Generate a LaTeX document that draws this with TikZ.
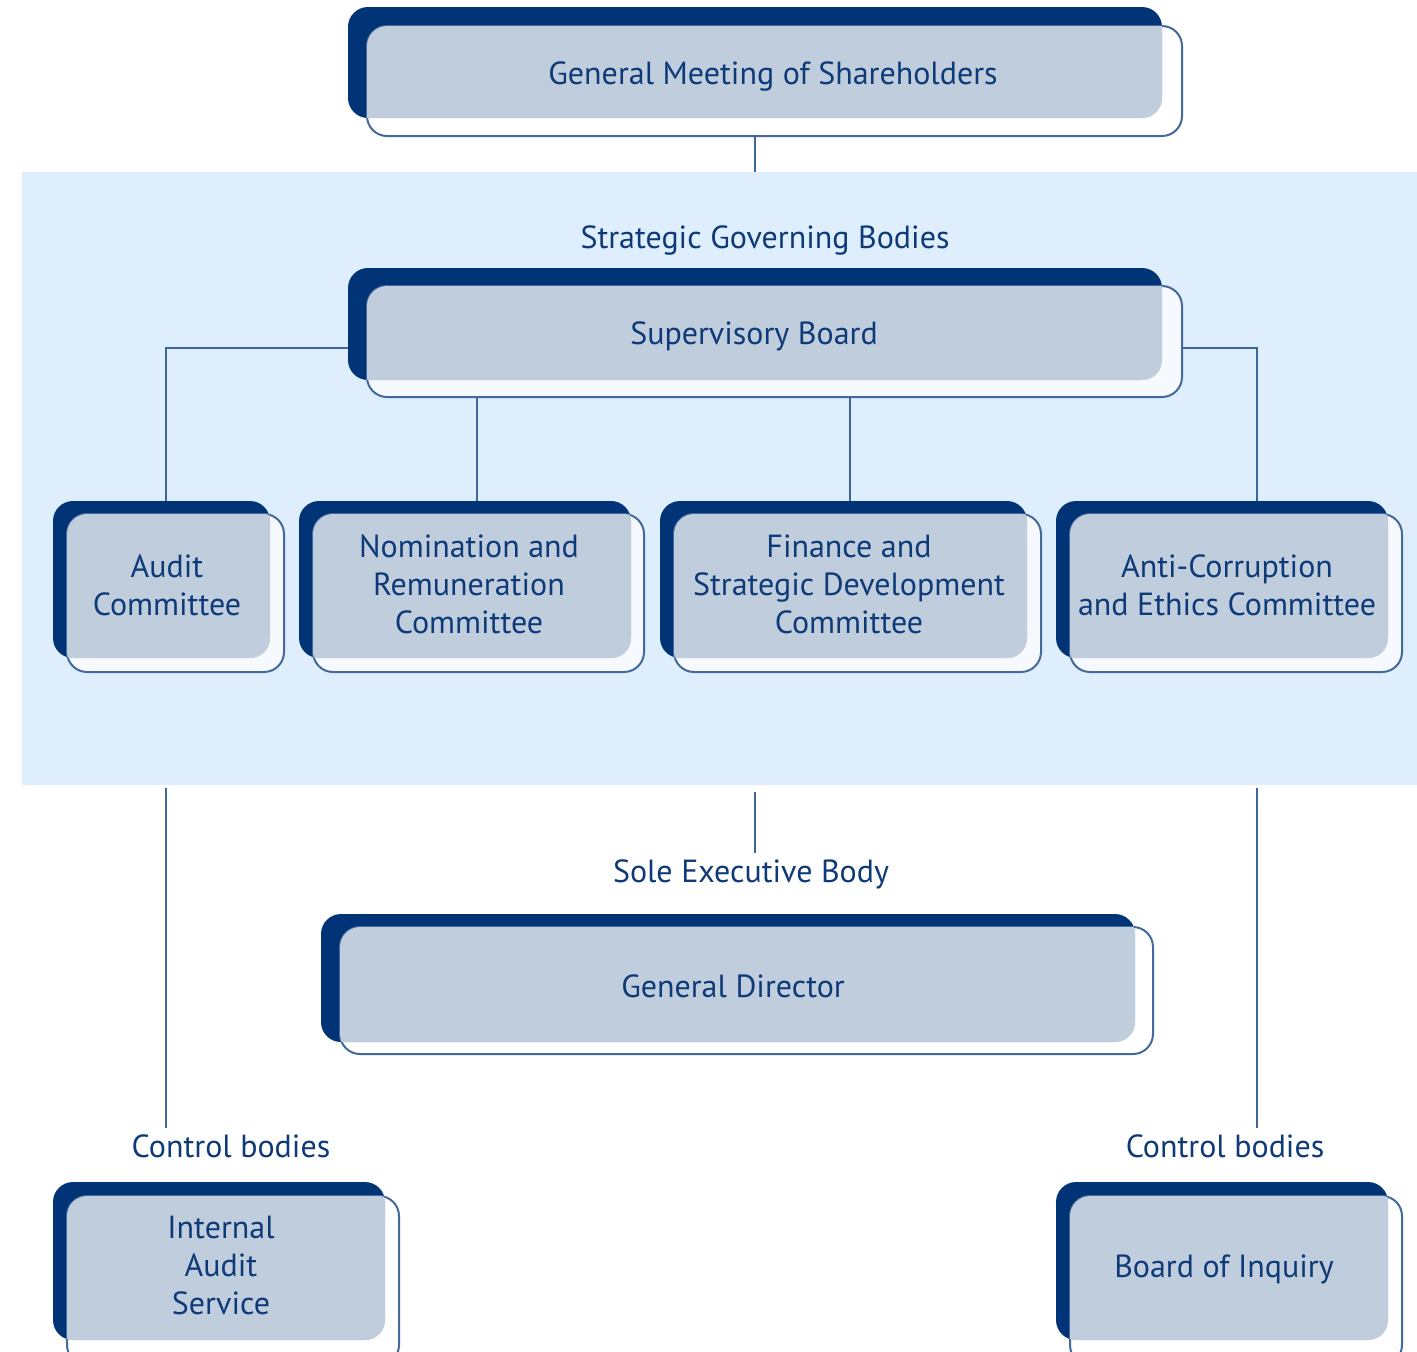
\documentclass[tikz,border=0pt]{standalone}
\usepackage{fontspec}
\setmainfont{PT Sans}
\usetikzlibrary{fit}

\definecolor{navy}{HTML}{003477}
\definecolor{cardgrey}{HTML}{BFCDDD}
\definecolor{cardline}{HTML}{44699B}
\definecolor{wire}{HTML}{3F6698}
\definecolor{bandblue}{HTML}{DFEEFD}
\definecolor{ink}{HTML}{0E3A78}

\pgfdeclarelayer{under}
\pgfsetlayers{under,main}

\tikzset{
  backcard/.style={fill=navy, rounded corners=10pt, inner sep=0pt, outer sep=0pt},
  frontcard/.style={draw=cardline, line width=1pt, fill=white, fill opacity=0.75,
                    rounded corners=10pt, inner sep=0pt, outer sep=0pt},
  label/.style={text=ink, font=\fontsize{16}{19}\selectfont, align=center, inner sep=3pt},
  wireline/.style={draw=wire, line width=1.2pt},
}

% layered card: dark back plate, light outlined front plate, grey overlap
\newcommand\orgcard[5]{%
  \node[backcard, fit={#2 #3}] (#1) {};
  \node[frontcard, fit={#4 #5}] (#1-b) {};
  \begin{scope}
    \clip[rounded corners=10pt] (#1-b.north west) rectangle (#1-b.south east);
    \fill[cardgrey, rounded corners=10pt] (#1.north west) rectangle (#1.south east);
  \end{scope}
}

\begin{document}
\begin{tikzpicture}[x=0.5pt, y=-0.5pt]
\useasboundingbox (0,0) rectangle (1417,1351);

% cards
\orgcard{gms}{(348,7)}{(1162,118)}{(367,26)}{(1182,136)}
\orgcard{sb}{(348,268)}{(1162,380)}{(367,286)}{(1182,397)}
\orgcard{aud}{(53,501)}{(270,658)}{(67,514)}{(284,672)}
\orgcard{nom}{(299,501)}{(631,658)}{(313,514)}{(644,672)}
\orgcard{fin}{(660,501)}{(1027,658)}{(674,514)}{(1041,672)}
\orgcard{anti}{(1056,501)}{(1388,658)}{(1070,514)}{(1402,672)}
\orgcard{gd}{(321,914)}{(1135,1042)}{(340,927)}{(1153,1054)}
\orgcard{ias}{(53,1182)}{(385,1340)}{(67,1196)}{(399,1365)}
\orgcard{boi}{(1056,1182)}{(1388,1340)}{(1070,1196)}{(1402,1365)}

% card texts
\node[label] (gmsT) at (773,76) {General Meeting of Shareholders};
\node[label] (sbT) at (754,336) {Supervisory Board};
\node[label] (audT) at (167,585) {Audit\\Committee};
\node[label] (nomT) at (469,584) {Nomination and\\Remuneration\\Committee};
\node[label] (finT) at (849,584) {Finance and\\Strategic Development\\Committee};
\node[label] (antiT) at (1227,585) {Anti-Corruption\\and Ethics Committee};
\node[label] (gdT) at (733,986) {General Director};
\node[label] (iasT) at (221,1265) {Internal\\Audit\\Service};
\node[label] (boiT) at (1224,1269) {Board of Inquiry};

% free-standing labels
\node[label] (sgb) at (765,240) {Strategic Governing Bodies};
\node[label] (seb) at (751,874) {Sole Executive Body};
\node[label] (ctrlL) at (231,1146) {Control bodies};
\node[label] (ctrlR) at (1225,1146) {Control bodies};

\begin{pgfonlayer}{under}
  % strategic governing area
  \node[fill=bandblue, inner sep=0pt, outer sep=0pt, fit={(22,172) (1417,785)}] (band) {};

  % connectors, kept beneath the cards
  \draw[wireline] (gms-b.south -| 755,0) -- (band.north -| 755,0);
  \draw[wireline] (sb.west |- 0,348) -| (aud.north -| 166,0);
  \draw[wireline] (sb-b.east |- 0,348) -| (anti.north -| 1257,0);
  \draw[wireline] (477,0 |- sb-b.south) -- (477,0 |- nom.north);
  \draw[wireline] (850,0 |- sb-b.south) -- (850,0 |- fin.north);
  \draw[wireline] (band.south -| 166,0) ++(0,3) -- (ctrlL.north -| 166,0);
  \draw[wireline] (band.south -| 1257,0) ++(0,3) -- (ctrlR.north -| 1257,0);
  \draw[wireline] (band.south -| 755,0) ++(0,7) -- (seb.north -| 755,0);
\end{pgfonlayer}
\end{tikzpicture}
\end{document}
